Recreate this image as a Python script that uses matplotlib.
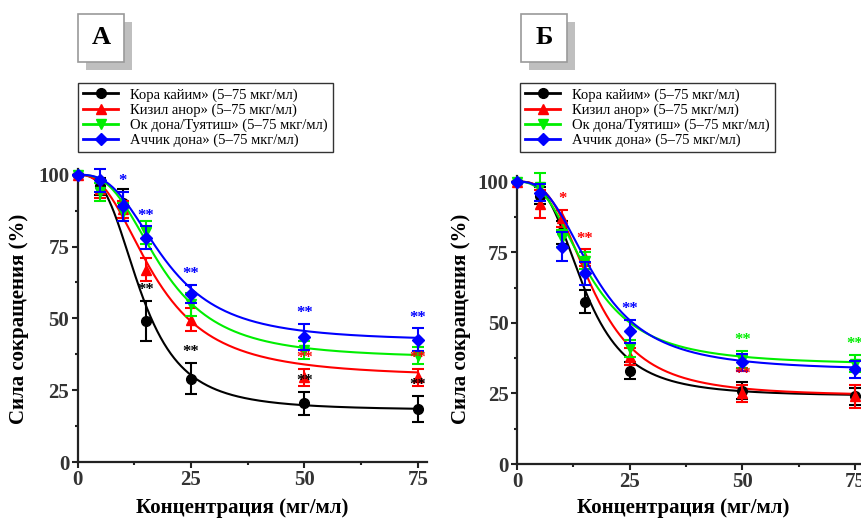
import matplotlib
matplotlib.use("Agg")
import matplotlib.pyplot as plt
from matplotlib.patches import Rectangle
from matplotlib.lines import Line2D
from matplotlib.ticker import MultipleLocator
import numpy as np

plt.rcParams['font.family'] = ['Liberation Serif', 'DejaVu Serif']

# ---------------- data ----------------
conc = [0, 5, 10, 15, 25, 50, 75]
series_names = ["Кора кайим» (5–75 мкг/мл)", "Кизил анор» (5–75 мкг/мл)",
                "Ок дона/Туятиш» (5–75 мкг/мл)", "Аччик дона» (5–75 мкг/мл)"]
series_colors = ['#000000', '#ff0000', '#00ee00', '#0000ff']
series_markers = ['o', '^', 'v', 'D']

# Panel A (mean, SEM)
A_black = [100, 96, 90, 49, 29, 20.5, 18.5]
A_red = [100, 95, 88, 67, 49.5, 29.5, 29.5]
A_green = [100, 94, 87, 80, 55, 39, 37]
A_blue = [100, 98, 89, 78, 58.5, 43.5, 42.5]
A_black_err = [0, 3, 5, 7, 5.5, 4, 4.5]
A_red_err = [0, 3, 3, 4, 4, 3, 3]
A_green_err = [0, 3, 3, 4, 4, 3, 3]
A_blue_err = [0, 4, 5, 4, 3, 4.5, 4]
# fitted dose-response parameters (bottom, EC50, Hill)
A_fit = [(18, 14, 3.0), (29.5, 17, 2.5), (36, 18.5, 2.8), (42, 19, 2.8)]
A_stars = [['', '', '', '**', '**', '**', '**'],
           ['', '', '', '', '', '**', '**'],
           ['', '', '', '', '', '', ''],
           ['', '', '*', '**', '**', '**', '**']]

# Panel B
B_black = [100, 95, 82, 57.5, 33, 26, 24]
B_red = [100, 92, 87, 73, 38, 25, 24]
B_green = [100, 98, 80, 72, 41, 37, 35.5]
B_blue = [100, 96, 77, 67.5, 47, 36, 33.5]
B_black_err = [0, 3, 4, 4, 3, 3, 3]
B_red_err = [0, 5, 3, 3, 3, 3, 4]
B_green_err = [0, 5, 3, 3, 3, 3, 3]
B_blue_err = [0, 3, 5, 4, 4, 3, 3]
B_fit = [(24, 15, 3.1), (24, 16.8, 3.0), (35, 15.9, 2.64), (33, 17.3, 2.73)]
B_stars = [['', '', '', '', '', '', ''],
           ['', '', '*', '**', '', '**', ''],
           ['', '', '', '', '', '**', '**'],
           ['', '', '', '', '**', '', '']]

panels = [
    dict(label='А', means=[A_black, A_red, A_green, A_blue],
         errs=[A_black_err, A_red_err, A_green_err, A_blue_err], fit=A_fit, stars=A_stars),
    dict(label='Б', means=[B_black, B_red, B_green, B_blue],
         errs=[B_black_err, B_red_err, B_green_err, B_blue_err], fit=B_fit, stars=B_stars),
]

x_ticks = [0, 25, 50, 75]
y_ticks = [0, 25, 50, 75, 100]

# ---------------- layout (pixels) ----------------
W, H = 861, 521
fig = plt.figure(figsize=(W / 100, H / 100), dpi=100)

def fx(px):
    return px / W

def fy(py):
    return 1 - py / H

layouts = [
    dict(ax_left=77.5, ax_right=427, ax_bottom=462, ax_top=169,
         box=(78, 14, 124, 62), legend=(78, 83), ylab_x=19, xlab_x=242),
    dict(ax_left=517, ax_right=864, ax_bottom=464, ax_top=176,
         box=(521, 14, 567, 62), legend=(520, 83), ylab_x=461, xlab_x=683),
]

for p, L in zip(panels, layouts):
    ax = fig.add_axes([fx(L['ax_left']), fy(L['ax_bottom']),
                       fx(L['ax_right'] - L['ax_left']),
                       (L['ax_bottom'] - L['ax_top']) / H])
    ax.set_xlim(0, 77)
    ax.set_ylim(0, 102)
    for s in ['top', 'right']:
        ax.spines[s].set_visible(False)
    for s in ['left', 'bottom']:
        ax.spines[s].set_linewidth(1.6)
        ax.spines[s].set_color('#222222')
    ax.set_xticks(x_ticks)
    ax.set_yticks(y_ticks)
    ax.xaxis.set_minor_locator(MultipleLocator(12.5))
    ax.yaxis.set_minor_locator(MultipleLocator(12.5))
    ax.tick_params(which='major', direction='out', length=4, width=1.5,
                   color='#222222', labelsize=15, pad=2)
    ax.tick_params(which='minor', direction='out', length=2.5, width=1.5, color='#222222')
    for t in ax.get_xticklabels() + ax.get_yticklabels():
        t.set_fontweight('bold')
        t.set_color('#333333')

    xf = np.linspace(0, 75, 300)
    for i in range(4):
        bottom, ec50, hill = p['fit'][i]
        yf = bottom + (100 - bottom) / (1 + (xf / ec50) ** hill)
        c = series_colors[i]
        ax.plot(xf, yf, color=c, lw=1.5, zorder=2 + i)
        ax.errorbar(conc, p['means'][i], yerr=p['errs'][i], fmt=series_markers[i],
                    color=c, ms=7 if series_markers[i] != 'D' else 6,
                    elinewidth=1.5, capsize=4.5, capthick=1.5, zorder=3 + i,
                    clip_on=False)
        for xv, m, e, s in zip(conc, p['means'][i], p['errs'][i], p['stars'][i]):
            if s:
                ax.text(xv, m + e + 1, s, color=c, ha='center', va='bottom',
                        fontsize=12, fontweight='bold', zorder=10)

    # panel label box with shadow
    x0, y0, x1, y1 = L['box']
    fig.patches.append(Rectangle((fx(x0 + 8), fy(y1 + 8)), fx(x1 - x0), (y1 - y0) / H,
                                 transform=fig.transFigure, facecolor='#bfbfbf',
                                 edgecolor='none', zorder=1))
    fig.patches.append(Rectangle((fx(x0), fy(y1)), fx(x1 - x0), (y1 - y0) / H,
                                 transform=fig.transFigure, facecolor='white',
                                 edgecolor='#9a9a9a', lw=1.2, zorder=2))
    fig.text(fx((x0 + x1) / 2), fy((y0 + y1) / 2), p['label'], ha='center', va='center',
             fontsize=19, fontweight='bold', zorder=3)

    # legend
    handles = [Line2D([], [], color=series_colors[i], marker=series_markers[i],
                      ms=7 if series_markers[i] != 'D' else 6, lw=2)
               for i in range(4)]
    leg = fig.legend(handles, series_names, loc='upper left',
                     bbox_to_anchor=(fx(L['legend'][0]), fy(L['legend'][1])),
                     bbox_transform=fig.transFigure, fontsize=10.5, frameon=True,
                     fancybox=False, edgecolor='black', handlelength=2.4,
                     labelspacing=0.12, borderpad=0.35, handletextpad=0.8,
                     borderaxespad=0)
    leg.get_frame().set_linewidth(1.0)

    # axis labels
    fig.text(fx(L['ylab_x']), fy(319), 'Сила сокращения (%)', rotation=90,
             ha='center', va='center', fontsize=15, fontweight='bold')
    fig.text(fx(L['xlab_x']), fy(508), 'Концентрация (мг/мл)',
             ha='center', va='center', fontsize=15, fontweight='bold')

fig.savefig('out.png', dpi=100)
